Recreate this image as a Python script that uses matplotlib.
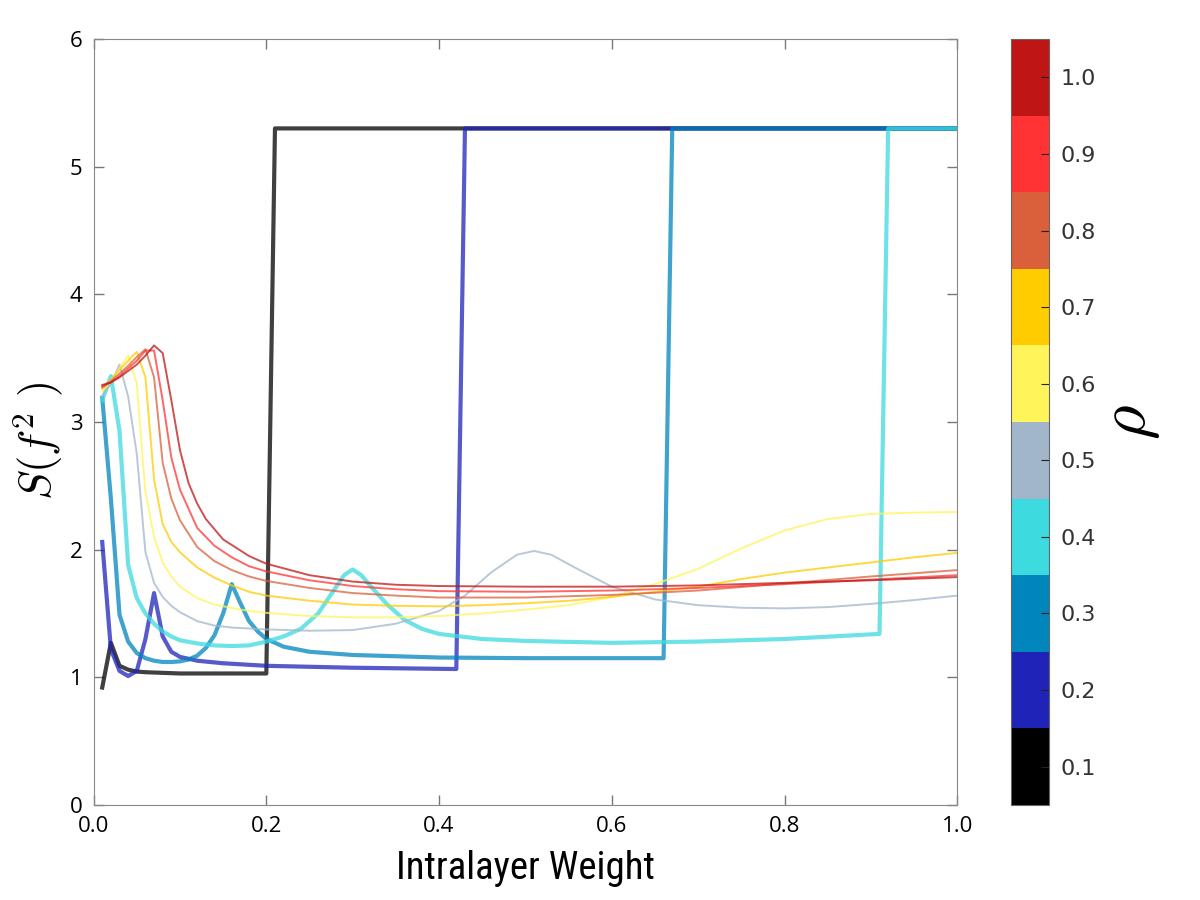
import numpy as np
import matplotlib
matplotlib.use("Agg")
from matplotlib import pyplot as plt
from matplotlib import font_manager
from matplotlib.colors import ListedColormap, BoundaryNorm
from matplotlib.cm import ScalarMappable

plt.rcParams['mathtext.fontset'] = 'cm'

# p values and their colours
p_values = [0.1, 0.2, 0.3, 0.4, 0.5, 0.6, 0.7, 0.8, 0.9, 1.0]
p_colors = ['#000000', '#1f23b8', '#0085bd', '#3ddae0', '#a2b6cb',
            '#fff55a', '#ffcc00', '#d9603b', '#ff3333', '#c01515']

# S(f^2) curves, one pair of lists per p
x_p01 = [0.01, 0.02, 0.03, 0.04, 0.05, 0.06, 0.08, 0.10, 0.15, 0.20, 0.21, 1.0]
s_p01 = [0.92, 1.27, 1.09, 1.06, 1.045, 1.04, 1.035, 1.03, 1.03, 1.03, 5.30, 5.30]

x_p02 = [0.01, 0.02, 0.03, 0.04, 0.05, 0.06, 0.07, 0.08, 0.09, 0.10, 0.12, 0.15,
         0.20, 0.30, 0.42, 0.43, 1.0]
s_p02 = [2.06, 1.22, 1.05, 1.01, 1.05, 1.30, 1.66, 1.32, 1.20, 1.16, 1.13, 1.11,
         1.09, 1.075, 1.065, 5.30, 5.30]

x_p03 = [0.01, 0.02, 0.03, 0.04, 0.05, 0.06, 0.07, 0.08, 0.09, 0.10, 0.11, 0.12,
         0.13, 0.14, 0.15, 0.16, 0.17, 0.18, 0.19, 0.20, 0.22, 0.25, 0.30, 0.40,
         0.50, 0.66, 0.67, 1.0]
s_p03 = [3.19, 2.40, 1.49, 1.28, 1.19, 1.15, 1.13, 1.12, 1.12, 1.125, 1.14, 1.17,
         1.23, 1.33, 1.50, 1.73, 1.58, 1.44, 1.36, 1.30, 1.24, 1.20, 1.175, 1.155,
         1.15, 1.15, 5.30, 5.30]

x_p04 = [0.01, 0.02, 0.03, 0.04, 0.05, 0.06, 0.07, 0.08, 0.09, 0.10, 0.12, 0.14,
         0.16, 0.18, 0.20, 0.22, 0.24, 0.26, 0.27, 0.28, 0.29, 0.30, 0.31, 0.32,
         0.34, 0.36, 0.38, 0.40, 0.45, 0.50, 0.60, 0.70, 0.80, 0.91, 0.92, 1.0]
s_p04 = [3.17, 3.36, 2.93, 1.88, 1.62, 1.50, 1.42, 1.36, 1.32, 1.29, 1.265, 1.25,
         1.245, 1.25, 1.28, 1.32, 1.38, 1.50, 1.60, 1.70, 1.80, 1.845, 1.80, 1.72,
         1.57, 1.45, 1.38, 1.34, 1.30, 1.285, 1.27, 1.28, 1.30, 1.34, 5.30, 5.30]

x_p05 = [0.01, 0.02, 0.03, 0.04, 0.05, 0.06, 0.07, 0.08, 0.09, 0.10, 0.12, 0.14,
         0.16, 0.20, 0.25, 0.30, 0.35, 0.40, 0.43, 0.46, 0.49, 0.51, 0.53, 0.56,
         0.60, 0.65, 0.70, 0.75, 0.80, 0.85, 0.90, 0.95, 1.0]
s_p05 = [3.20, 3.30, 3.45, 3.20, 2.75, 1.98, 1.74, 1.63, 1.56, 1.51, 1.44, 1.405,
         1.39, 1.375, 1.365, 1.37, 1.42, 1.52, 1.64, 1.82, 1.96, 1.99, 1.96, 1.85,
         1.71, 1.61, 1.565, 1.545, 1.54, 1.55, 1.575, 1.605, 1.64]

x_p06 = [0.01, 0.02, 0.03, 0.04, 0.05, 0.06, 0.07, 0.08, 0.09, 0.10, 0.12, 0.14,
         0.17, 0.20, 0.25, 0.30, 0.35, 0.40, 0.45, 0.50, 0.55, 0.60, 0.65, 0.70,
         0.75, 0.80, 0.85, 0.90, 0.95, 1.0]
s_p06 = [3.24, 3.32, 3.42, 3.52, 3.30, 2.45, 2.10, 1.90, 1.79, 1.71, 1.62, 1.57,
         1.53, 1.505, 1.48, 1.47, 1.47, 1.48, 1.50, 1.53, 1.565, 1.63, 1.73, 1.85,
         2.01, 2.15, 2.24, 2.28, 2.29, 2.295]

x_p07 = [0.01, 0.02, 0.03, 0.04, 0.05, 0.06, 0.07, 0.08, 0.09, 0.10, 0.12, 0.14,
         0.16, 0.18, 0.20, 0.25, 0.30, 0.35, 0.40, 0.45, 0.50, 0.55, 0.60, 0.65,
         0.70, 0.75, 0.80, 0.85, 0.90, 0.95, 1.0]
s_p07 = [3.26, 3.33, 3.41, 3.48, 3.55, 3.35, 2.55, 2.20, 2.06, 1.98, 1.86, 1.78,
         1.72, 1.67, 1.64, 1.60, 1.57, 1.56, 1.556, 1.565, 1.58, 1.60, 1.63, 1.67,
         1.71, 1.77, 1.82, 1.86, 1.90, 1.94, 1.975]

x_p08 = [0.01, 0.02, 0.03, 0.04, 0.05, 0.06, 0.07, 0.08, 0.09, 0.10, 0.12, 0.14,
         0.16, 0.18, 0.20, 0.25, 0.30, 0.35, 0.40, 0.50, 0.60, 0.70, 0.80, 0.90, 1.0]
s_p08 = [3.27, 3.32, 3.38, 3.44, 3.51, 3.57, 3.35, 2.68, 2.40, 2.23, 2.02, 1.91,
         1.84, 1.79, 1.755, 1.70, 1.66, 1.64, 1.625, 1.625, 1.645, 1.68, 1.735,
         1.79, 1.84]

x_p09 = [0.01, 0.02, 0.03, 0.04, 0.05, 0.06, 0.07, 0.08, 0.09, 0.10, 0.12, 0.14,
         0.16, 0.18, 0.20, 0.25, 0.30, 0.35, 0.40, 0.50, 0.60, 0.70, 0.80, 0.90, 1.0]
s_p09 = [3.28, 3.31, 3.36, 3.42, 3.48, 3.56, 3.56, 3.17, 2.72, 2.47, 2.17, 2.03,
         1.94, 1.87, 1.83, 1.76, 1.715, 1.69, 1.675, 1.67, 1.68, 1.70, 1.73,
         1.765, 1.80]

x_p10 = [0.01, 0.02, 0.03, 0.04, 0.05, 0.06, 0.07, 0.08, 0.09, 0.10, 0.11, 0.12,
         0.13, 0.15, 0.18, 0.20, 0.25, 0.30, 0.35, 0.40, 0.50, 0.60, 0.70, 0.80,
         0.90, 1.0]
s_p10 = [3.29, 3.31, 3.35, 3.40, 3.45, 3.52, 3.60, 3.54, 3.17, 2.78, 2.52, 2.36,
         2.24, 2.08, 1.95, 1.89, 1.80, 1.75, 1.725, 1.715, 1.71, 1.71, 1.72, 1.74,
         1.76, 1.785]

xs = [x_p01, x_p02, x_p03, x_p04, x_p05, x_p06, x_p07, x_p08, x_p09, x_p10]
ss = [s_p01, s_p02, s_p03, s_p04, s_p05, s_p06, s_p07, s_p08, s_p09, s_p10]

x_ticks = [0.0, 0.2, 0.4, 0.6, 0.8, 1.0]
y_ticks = [0, 1, 2, 3, 4, 5, 6]


def narrow_font():
    # look for a condensed sans face for the x label
    order = ['Liberation Sans Narrow', 'Roboto Condensed', 'Open Sans Condensed',
             'DejaVu Sans Condensed', 'Noto Sans Condensed']
    found = []
    for f in font_manager.fontManager.ttflist:
        nm = f.name + ' ' + str(f.stretch)
        if ('Narrow' in nm or 'Condensed' in nm or 'condensed' in nm) \
                and f.style == 'normal' and f.weight in (400, 'normal', 'regular'):
            found.append(f)
    if not found:
        return font_manager.FontProperties(family='DejaVu Sans')
    def rank(f):
        for i, o in enumerate(order):
            if f.name == o:
                return i
        return len(order)
    found.sort(key=rank)
    return font_manager.FontProperties(fname=found[0].fname)


fig = plt.figure(figsize=(12, 9), dpi=100)
ax = fig.add_axes([0.078, 0.1056, 0.7197, 0.851])

for p, x, s, c in zip(p_values, xs, ss, p_colors):
    lw = 3.0 if p < 0.45 else 1.4
    ax.plot(x, s, color=c, lw=lw, alpha=0.75)

ax.set_xlim(0, 1)
ax.set_ylim(0, 6)
ax.set_xticks(x_ticks)
ax.set_xticklabels(['%.1f' % t for t in x_ticks])
ax.set_yticks(y_ticks)
ax.tick_params(direction='in', length=7, width=1, color='#777777',
               top=True, right=True, labelsize=16, pad=8)
for lab in ax.get_xticklabels() + ax.get_yticklabels():
    lab.set_family(['Open Sans', 'DejaVu Sans'])
for sp in ax.spines.values():
    sp.set_color('#888888')

fp = narrow_font()
fp.set_size(28)
ax.set_xlabel('Intralayer Weight', fontproperties=fp, labelpad=9)
ax.set_ylabel(r'$S(f^2\ )$', fontsize=32)
ax.yaxis.set_label_coords(-0.033, 0.475)

# discrete colourbar for p
cmap = ListedColormap(p_colors)
bounds = np.arange(0.05, 1.1, 0.1)
norm = BoundaryNorm(bounds, cmap.N)
sm = ScalarMappable(cmap=cmap, norm=norm)
cax = fig.add_axes([0.8425, 0.1056, 0.0317, 0.851])
cb = fig.colorbar(sm, cax=cax, ticks=p_values)
cb.minorticks_off()
cb.set_ticklabels(['%.1f' % p for p in p_values])
cb.ax.tick_params(direction='in', length=6, color='#222222', labelsize=16,
                  labelcolor='#333333', pad=8)
cb.outline.set_edgecolor('#666666')
cb.set_label(r'$\rho$', fontsize=48, rotation=90, labelpad=0)

fig.savefig('out.png', dpi=100)
